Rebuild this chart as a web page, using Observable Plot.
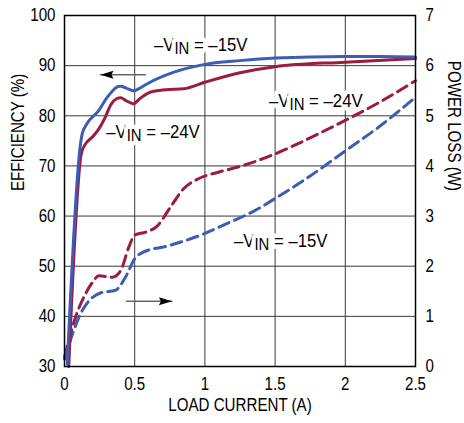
<!DOCTYPE html>
<html><head><meta charset="utf-8">
<script src="https://cdn.jsdelivr.net/npm/d3@7"></script>
<script src="https://cdn.jsdelivr.net/npm/@observablehq/plot@0.6"></script>
<style>body{margin:0;background:#fff} svg{display:block}</style>
</head><body><div id="chart"></div>
<script>
// Efficiency (%), left axis
const eff15Current = [0.02, 0.11, 0.126, 0.16, 0.245, 0.30, 0.34, 0.38, 0.40, 0.44, 0.49, 0.53, 0.59, 0.78, 0.99, 1.25, 1.50, 2.00, 2.25, 2.50];
const eff15Value   = [30.5, 73.5, 76.4, 78.4, 81.1, 83.5, 84.9, 85.8, 85.9, 85.5, 85.0, 85.4, 86.4, 88.7, 90.2, 91.0, 91.5, 91.8, 91.8, 91.7];
const eff24Current = [0.03, 0.12, 0.15, 0.20, 0.245, 0.29, 0.33, 0.37, 0.40, 0.44, 0.49, 0.54, 0.61, 0.72, 0.85, 1.00, 1.25, 1.50, 2.00, 2.50];
const eff24Value   = [30.0, 72.5, 74.4, 75.8, 77.4, 79.7, 82.2, 83.4, 83.6, 83.0, 82.4, 83.5, 84.7, 85.2, 85.4, 86.7, 88.6, 89.8, 90.7, 91.4];
// Power loss (W), right axis
const loss15Current = [0, 0.066, 0.114, 0.15, 0.20, 0.26, 0.363, 0.434, 0.50, 0.56, 0.73, 0.97, 1.18, 1.35, 1.50, 1.75, 2.00, 2.25, 2.50];
const loss15Value   = [0.15, 0.72, 1.05, 1.22, 1.38, 1.47, 1.52, 1.78, 2.15, 2.28, 2.40, 2.62, 2.88, 3.10, 3.35, 3.80, 4.30, 4.80, 5.37];
const loss24Current = [0, 0.078, 0.15, 0.20, 0.245, 0.34, 0.40, 0.458, 0.50, 0.58, 0.66, 0.755, 0.85, 0.95, 1.10, 1.25, 1.50, 1.75, 2.00, 2.25, 2.50];
const loss24Value   = [0.19, 0.98, 1.45, 1.68, 1.81, 1.78, 1.91, 2.38, 2.62, 2.68, 2.80, 3.18, 3.55, 3.74, 3.88, 3.99, 4.24, 4.56, 4.91, 5.28, 5.70];

// Tick values
const xTicks = [0, 0.5, 1, 1.5, 2, 2.5];
const effTicks = [30, 40, 50, 60, 70, 80, 90, 100];
const lossTickLabels = ["0", "1", "2", "3", "4", "5", "6", "7"];

// Annotations (data coordinates, efficiency scale)
const seriesLabels = [
  {text: "–VIN = –15V", x: 0.97, y: 94.0},
  {text: "–VIN = –24V", x: 0.63, y: 76.7},
  {text: "–VIN = –24V", x: 1.79, y: 83.0},
  {text: "–VIN = –15V", x: 1.54, y: 55.0}
];
const arrowLeft = [{x: 0.577, y: 88.2}, {x: 0.256, y: 88.2}];
const arrowRight = [{x: 0.441, y: 43.0}, {x: 0.765, y: 43.0}];

const FONT = '"Liberation Sans Narrow", "Arial Narrow", "Liberation Sans", Arial, sans-serif';
const BLUE = "#3d5db5", RED = "#9c1b40";

const zip = (xs, ys) => xs.map((x, i) => ({x, y: ys[i]}));
const eff15 = zip(eff15Current, eff15Value);
const eff24 = zip(eff24Current, eff24Value);
// power loss mapped on the shared y scale: 0..7 W -> 30..100
const loss15 = zip(loss15Current, loss15Value.map(v => 30 + 10 * v));
const loss24 = zip(loss24Current, loss24Value.map(v => 30 + 10 * v));

function arrowHead() {
  const m = d3.create("svg:marker")
    .attr("viewBox", "-14 -5 15 10")
    .attr("markerWidth", 15).attr("markerHeight", 10)
    .attr("markerUnits", "userSpaceOnUse")
    .attr("orient", "auto").attr("refX", 0).attr("refY", 0);
  m.append("path").attr("d", "M-13,-4L0,0L-13,4L-11,0Z").attr("fill", "black").attr("stroke", "none");
  return m.node();
}

const chart = Plot.plot({
  width: 464, height: 423,
  marginLeft: 64, marginRight: 49, marginTop: 15, marginBottom: 57,
  style: {fontFamily: FONT, fontSize: "18px", background: "white", color: "black"},
  x: {domain: [0, 2.5]},
  y: {domain: [30, 100]},
  marks: [
    Plot.gridX(xTicks.slice(1, -1), {stroke: "#3a3a3a", strokeOpacity: 1, strokeWidth: 1}),
    Plot.gridY(effTicks.slice(1, -1), {stroke: "#3a3a3a", strokeOpacity: 1, strokeWidth: 1}),
    Plot.axisX({ticks: xTicks, tickSize: 0, tickPadding: 11, tickFormat: d => String(d), fontSize: 18, label: null}),
    Plot.axisY({anchor: "left", ticks: effTicks, tickSize: 0, tickPadding: 9, fontSize: 18, label: null}),
    Plot.axisY({anchor: "right", ticks: effTicks, tickSize: 0, tickPadding: 10, fontSize: 18, label: null,
      tickFormat: d => lossTickLabels[(d - 30) / 10]}),
    Plot.text(["EFFICIENCY (%)"], {frameAnchor: "left", dx: -46, rotate: -90, fontSize: 18}),
    Plot.text(["POWER LOSS (W)"], {frameAnchor: "right", dx: 38, rotate: 90, fontSize: 18}),
    Plot.text(["LOAD CURRENT (A)"], {frameAnchor: "bottom", dy: 44, fontSize: 18}),
    Plot.text(seriesLabels, {x: "x", y: "y", text: "text", fontSize: 18, fill: "black",
      stroke: "white", strokeWidth: 9, paintOrder: "stroke"}),
    Plot.line(loss24, {x: "x", y: "y", stroke: RED, strokeWidth: 3, strokeDasharray: "11,6", curve: "monotone-x"}),
    Plot.line(loss15, {x: "x", y: "y", stroke: BLUE, strokeWidth: 3, strokeDasharray: "11,6", curve: "monotone-x"}),
    Plot.line(eff24, {x: "x", y: "y", stroke: RED, strokeWidth: 3, curve: "monotone-x"}),
    Plot.line(eff15, {x: "x", y: "y", stroke: BLUE, strokeWidth: 3, curve: "monotone-x"}),
    Plot.line(arrowLeft, {x: "x", y: "y", stroke: "#666", strokeWidth: 1.5, markerEnd: arrowHead}),
    Plot.line(arrowRight, {x: "x", y: "y", stroke: "#666", strokeWidth: 1.5, markerEnd: arrowHead}),
    Plot.frame({stroke: "black", strokeWidth: 1.5})
  ]
});

// subscript "IN"
chart.querySelectorAll("text").forEach(t => {
  const m = /^–VIN(.*)$/.exec(t.textContent);
  if (!m) return;
  t.textContent = "";
  const ns = "http://www.w3.org/2000/svg";
  const a = document.createElementNS(ns, "tspan"); a.textContent = "–V";
  const b = document.createElementNS(ns, "tspan"); b.textContent = "IN";
  b.setAttribute("dy", "3"); b.setAttribute("font-size", "16");
  const c = document.createElementNS(ns, "tspan"); c.textContent = m[1];
  c.setAttribute("dy", "-3");
  t.append(a, b, c);
  t.setAttribute("data-vin", "1");
});

document.getElementById("chart").append(chart);

// condense text to mimic a narrow typeface
chart.querySelectorAll("text").forEach(t => {
  const f = t.getAttribute("data-vin") ? 0.93 : 0.84;
  const L = t.getComputedTextLength();
  if (L > 0) {
    t.setAttribute("textLength", (L * f).toFixed(1));
    t.setAttribute("lengthAdjust", "spacingAndGlyphs");
  }
});
</script>
</body></html>
